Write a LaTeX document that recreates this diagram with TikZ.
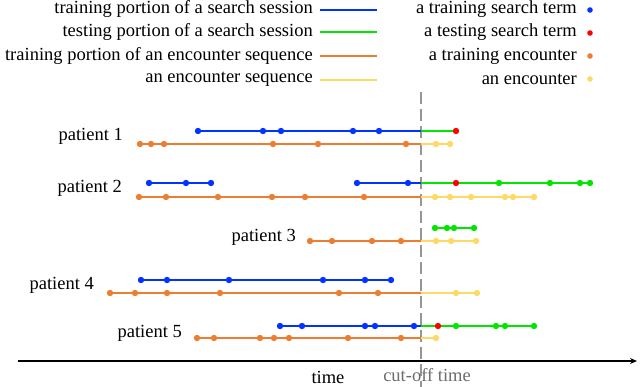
\documentclass[tikz,border=0pt]{standalone}
\usepackage{fontspec}
\setmainfont{Liberation Serif}
\usetikzlibrary{arrows.meta}
\definecolor{cblue}{RGB}{0,51,255}
\definecolor{cgreen}{RGB}{0,230,0}
\definecolor{cred}{RGB}{255,0,0}
\definecolor{corange}{RGB}{237,125,49}
\definecolor{cyellow}{RGB}{255,217,102}
\definecolor{cgray}{RGB}{150,150,150}
\begin{document}
\begin{tikzpicture}[x=1pt,y=-1pt,
  txt/.style={font=\fontsize{18.5}{20}\selectfont, inner sep=0pt},
  seg/.style={line width=1.8pt},
  legline/.style={line width=1.5pt},
]
\useasboundingbox (0,0) rectangle (640,386);
\newcommand{\dotsrow}[3]{\foreach \xx in {#3} {\fill[#1] (\xx,#2) circle (3.2pt);}}
% legend
\node[txt, anchor=east] (l1) at (313,9) {training portion of a search session};
\node[txt, anchor=east] (l2) at (313,32) {testing portion of a search session};
\node[txt, anchor=east] (l3) at (313,56) {training portion of an encounter sequence};
\node[txt, anchor=east] (l4) at (313,79) {an encounter sequence};
\draw[legline, cblue] (320,10) -- (377,10);
\draw[legline, cgreen] (320,32) -- (377,32);
\draw[legline, corange] (320,56) -- (377,56);
\draw[legline, cyellow] (320,80) -- (377,80);
\node[txt, anchor=east] (r1) at (577,9) {a training search term};
\node[txt, anchor=east] (r2) at (577,32) {a testing search term};
\node[txt, anchor=east] (r3) at (577,56) {a training encounter};
\node[txt, anchor=east] (r4) at (577,79) {an encounter};
\fill[cblue] (590,10) circle (2.8pt);
\fill[cred] (590,33) circle (2.8pt);
\fill[corange] (590,56) circle (2.8pt);
\fill[cyellow] (590,79) circle (2.8pt);
% cut-off
\draw[cgray, line width=1.8pt, dash pattern=on 12pt off 5pt] (421,92) -- (421,390);
% axis
\draw[line width=1.5pt, -{Stealth[length=7pt,width=6pt]}] (18,361) -- (637,361);
\node[txt] (time) at (328,377) {time};
\node[txt, text=gray!85!black] (cut) at (427,375) {cut-off time};
% patient labels
\node[txt, anchor=east] (p1) at (123,136) {patient 1};
\node[txt, anchor=east] (p2) at (122,188) {patient 2};
\node[txt, anchor=east] (p3) at (296,237) {patient 3};
\node[txt, anchor=east] (p4) at (94,285) {patient 4};
\node[txt, anchor=east] (p5) at (182,333) {patient 5};
% patient 1
\draw[seg, cblue] (198,131) -- (421,131);
\draw[seg, cgreen] (421,131) -- (456,131);
\dotsrow{cblue}{131}{198,263,281,353,379}
\dotsrow{cred}{131}{456}
\draw[seg, corange] (139,144) -- (421,144);
\draw[seg, cyellow] (421,144) -- (450,144);
\dotsrow{corange}{144}{140,151,164,273,318,406}
\dotsrow{cyellow}{144}{436,450}
% patient 2
\draw[seg, cblue] (149,183) -- (211,183);
\draw[seg, cblue] (357,183) -- (421,183);
\draw[seg, cgreen] (421,183) -- (590,183);
\dotsrow{cblue}{183}{149,186,211,357,408}
\dotsrow{cgreen}{183}{499,550,580,590}
\dotsrow{cred}{183}{456}
\draw[seg, corange] (139,197) -- (421,197);
\draw[seg, cyellow] (421,197) -- (534,197);
\dotsrow{corange}{197}{139,166,218,272,305,364}
\dotsrow{cyellow}{197}{435,450,471,505,513,534}
% patient 3
\draw[seg, cgreen] (435,228) -- (474,228);
\dotsrow{cgreen}{228}{435,447,454,474}
\draw[seg, corange] (310,241) -- (421,241);
\draw[seg, cyellow] (421,241) -- (476,241);
\dotsrow{corange}{241}{310,332,372,401}
\dotsrow{cyellow}{241}{436,451,476}
% patient 4
\draw[seg, cblue] (141,280) -- (391,280);
\dotsrow{cblue}{280}{141,167,229,323,365,391}
\draw[seg, corange] (110,293) -- (421,293);
\draw[seg, cyellow] (421,293) -- (477,293);
\dotsrow{corange}{293}{110,135,167,220,339,378}
\dotsrow{cyellow}{293}{456,477}
% patient 5
\draw[seg, cblue] (280,326) -- (421,326);
\draw[seg, cgreen] (421,326) -- (534,326);
\dotsrow{cblue}{326}{280,302,365,375,414}
\dotsrow{cgreen}{326}{456,496,505,534}
\dotsrow{cred}{326}{438}
\draw[seg, corange] (197,338) -- (421,338);
\draw[seg, cyellow] (421,338) -- (436,338);
\dotsrow{corange}{338}{197,214,260,274,289,348,401}
\dotsrow{cyellow}{338}{436}
\end{tikzpicture}
\end{document}
